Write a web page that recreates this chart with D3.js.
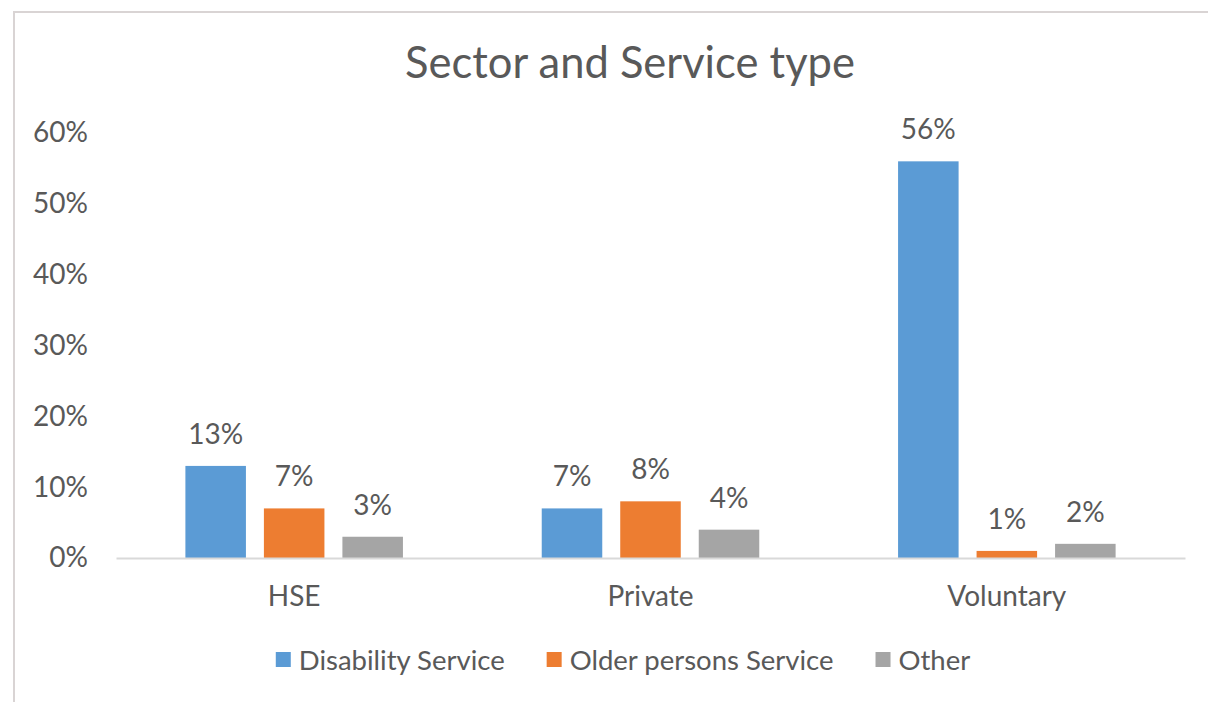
<!DOCTYPE html>
<html>
<head>
<meta charset="utf-8">
<script src="https://cdn.jsdelivr.net/npm/d3@7"></script>
<style>
  body { margin: 0; background: #fff; }
  svg { display: block; font-family: Lato, "Open Sans", sans-serif; }
</style>
</head>
<body>
<svg id="chart" width="1208" height="702"></svg>
<script>
const categories = ["HSE", "Private", "Voluntary"];
const seriesNames = ["Disability Service", "Older persons Service", "Other"];
const disability = [0.13, 0.07, 0.56];
const olderPersons = [0.07, 0.08, 0.01];
const other = [0.03, 0.04, 0.02];
const yTicks = [0, 0.1, 0.2, 0.3, 0.4, 0.5, 0.6];

const colors = ["#5b9bd5", "#ed7d31", "#a5a5a5"];
const textColor = "#595959";

const width = 1208;
const height = 702;
const plot = { left: 116, right: 1185, top: 133, bottom: 558 };

const svg = d3.select("#chart");

// outer frame, cut off at the right and bottom of the picture
svg.append("rect")
  .attr("x", 14)
  .attr("y", 12)
  .attr("width", width + 100)
  .attr("height", height + 100)
  .attr("fill", "#fff")
  .attr("stroke", "#d9d4d4")
  .attr("stroke-width", 2);

const values = [disability, olderPersons, other];
const rows = categories.map((c, i) => ({
  category: c,
  items: seriesNames.map((s, j) => ({ series: s, value: values[j][i] }))
}));

const x0 = d3.scaleBand()
  .domain(categories)
  .range([plot.left, plot.right]);

const x1 = d3.scaleBand()
  .domain(seriesNames)
  .range([0, x0.bandwidth()])
  .paddingInner(0.229)
  .paddingOuter(0.884);

const y = d3.scaleLinear()
  .domain([0, 0.6])
  .range([plot.bottom, plot.top]);

const color = d3.scaleOrdinal().domain(seriesNames).range(colors);
const pct = d3.format(".0%");

svg.append("text")
  .attr("x", 630)
  .attr("y", 78)
  .attr("text-anchor", "middle")
  .attr("fill", textColor)
  .attr("font-size", 43.5)
  .text("Sector and Service type");

// y axis: labels only
const yAxis = svg.append("g")
  .attr("transform", `translate(${plot.left},0)`)
  .call(d3.axisLeft(y).tickValues(yTicks).tickFormat(pct).tickSize(0).tickPadding(28));
yAxis.select(".domain").remove();
yAxis.selectAll("text")
  .attr("fill", textColor)
  .attr("font-size", 28)
  .attr("font-family", "Lato, sans-serif");

const groups = svg.append("g")
  .selectAll("g")
  .data(rows)
  .join("g")
  .attr("transform", d => `translate(${x0(d.category)},0)`);

groups.selectAll("rect")
  .data(d => d.items)
  .join("rect")
  .attr("x", d => x1(d.series))
  .attr("y", d => y(d.value))
  .attr("width", x1.bandwidth())
  .attr("height", d => y(0) - y(d.value))
  .attr("fill", d => color(d.series));

groups.selectAll("text.value")
  .data(d => d.items)
  .join("text")
  .attr("class", "value")
  .attr("x", d => x1(d.series) + x1.bandwidth() / 2)
  .attr("y", d => y(d.value) - 22)
  .attr("text-anchor", "middle")
  .attr("fill", textColor)
  .attr("font-size", 28)
  .text(d => pct(d.value));

// x axis
const xAxis = svg.append("g")
  .attr("transform", `translate(0,${plot.bottom})`)
  .call(d3.axisBottom(x0).tickSize(0).tickPadding(28));
xAxis.select(".domain").attr("stroke", "#d9d9d9").attr("stroke-width", 2);
xAxis.selectAll("text")
  .attr("fill", textColor)
  .attr("font-size", 28)
  .attr("font-family", "Lato, sans-serif");

// legend
const legend = svg.append("g").attr("transform", "translate(0,660)");
const items = legend.selectAll("g")
  .data(seriesNames)
  .join("g");
items.append("rect")
  .attr("y", -8)
  .attr("width", 15)
  .attr("height", 15)
  .attr("fill", d => color(d));
items.append("text")
  .attr("x", 23)
  .attr("dy", "0.35em")
  .attr("fill", textColor)
  .attr("font-size", 27.5)
  .text(d => d);

const gap = 42;
let cursor = 0;
const offsets = [];
items.each(function () {
  offsets.push(cursor);
  cursor += this.getBBox().width + gap;
});
const legendWidth = cursor - gap;
const legendStart = 623 - legendWidth / 2;
items.attr("transform", (d, i) => `translate(${legendStart + offsets[i]},0)`);
</script>
</body>
</html>
